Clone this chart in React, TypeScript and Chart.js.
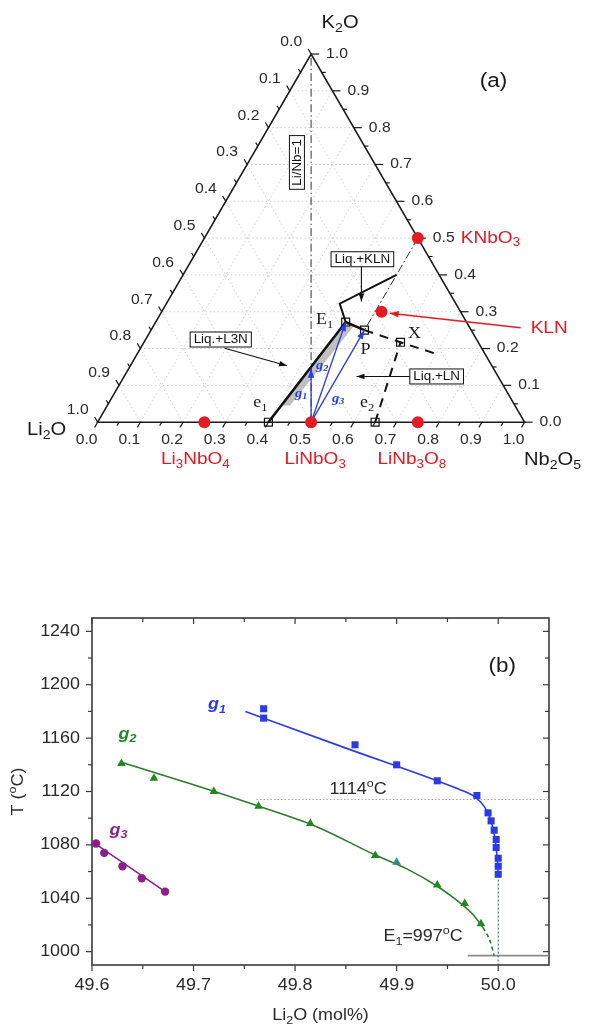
import { useEffect, useRef } from "react";
import { Chart, registerables } from "chart.js";
Chart.register(...registerables);

// ======================= (a) ternary diagram data =======================
const ternaryTicks = [0, 0.1, 0.2, 0.3, 0.4, 0.5, 0.6, 0.7, 0.8, 0.9, 1];
const ternaryTickLabels = ["0.0", "0.1", "0.2", "0.3", "0.4", "0.5", "0.6", "0.7", "0.8", "0.9", "1.0"];
const ternaryMinorTicks = [0.05, 0.15, 0.25, 0.35, 0.45, 0.55, 0.65, 0.75, 0.85, 0.95];
const componentNames = ["Li_2O", "Nb_2O_5", "K_2O"];

// compositions given as Nb2O5 and K2O fractions (Li2O = 1 - Nb - K)
const compoundNames = ["Li_3NbO_4", "LiNbO_3", "LiNb_3O_8", "KNbO_3", "KLN"];
const compoundNb = [0.25, 0.5, 0.75, 0.5, 0.515];
const compoundK = [0, 0, 0, 0.5, 0.3];

const invariantNames = ["e_1", "E_1", "P", "X", "e_2"];
const invariantNb = [0.4, 0.445, 0.5, 0.601, 0.65];
const invariantK = [0, 0.272, 0.25, 0.217, 0];

const pathNames = ["g_1", "g_2", "g_3"];
const pathStartNb = 0.5;
const pathStartK = 0;
const pathEndNb = [0.4275, 0.445, 0.5];
const pathEndK = [0.145, 0.272, 0.25];

const valleyNb = [0.4, 0.445, 0.5];
const valleyK = [0, 0.272, 0.25];
const klnBoundaryNb = [0.445, 0.406, 0.5];
const klnBoundaryK = [0.272, 0.322, 0.4];
const peritecticNb = [0.5, 0.601, 0.702];
const peritecticK = [0.25, 0.217, 0.185];
const e2BoundaryNb = [0.65, 0.601];
const e2BoundaryK = [0, 0.217];
const ratioLineNb = [0.5, 0];
const ratioLineK = [0, 1];
const knbLineNb = [0.5, 0.5];
const knbLineK = [0.5, 0.25];
const l3nFieldNb = [0.445, 0.47, 0.428, 0.407, 0.445];
const l3nFieldK = [0.272, 0.264, 0.045, 0.045, 0.272];

const fieldLabels = ["Liq.+KLN", "Liq.+L3N", "Liq.+LN"];
const fieldLabelNb = [0.3988, 0.176, 0.732];
const fieldLabelK = [0.4426, 0.2246, 0.1242];
const fieldArrowFromNb = [0.4064, 0.1971, 0.67];
const fieldArrowFromK = [0.4228, 0.2008, 0.1242];
const fieldArrowToNb = [0.454, 0.3673, 0.5443];
const fieldArrowToK = [0.3277, 0.1533, 0.1242];
const ratioLabel = "Li/Nb=1";
const ratioLabelNb = 0.114;
const ratioLabelK = 0.7055;
const klnArrowNb = [0.8627, 0.536];
const klnArrowK = [0.2563, 0.296];
const panelALabel = "(a)";

// ======================= (b) liquidus data =======================
const xTickValues = [49.6, 49.7, 49.8, 49.9, 50.0];
const xMinorTickValues = [49.65, 49.75, 49.85, 49.95];
const yTickValues = [1000, 1040, 1080, 1120, 1160, 1200, 1240];
const yMinorTickValues = [1020, 1060, 1100, 1140, 1180, 1220];

const g1Li2O = [49.769, 49.769, 49.859, 49.9, 49.94, 49.979, 49.99, 49.993, 49.996, 49.998, 49.998, 50.0, 50.0, 50.0];
const g1T = [1182, 1175, 1155, 1140, 1128, 1117, 1104, 1098, 1091, 1084, 1078, 1070, 1064, 1058];
const g1FitLi2O = [49.751, 49.85, 49.94, 49.962, 49.976, 49.986, 49.993, 49.997, 49.999, 50.0];
const g1FitT = [1180, 1152.5, 1128, 1121.5, 1116.5, 1109, 1098, 1084, 1070, 1057];

const g2Li2O = [49.629, 49.661, 49.72, 49.764, 49.815, 49.879, 49.94, 49.967, 49.983];
const g2T = [1141, 1130, 1120, 1109, 1096, 1072, 1050, 1036, 1021];
const g2ExtraLi2O = [49.9];
const g2ExtraT = [1067];
const g2FitLi2O = [49.629, 49.7, 49.76, 49.82, 49.88, 49.91, 49.94, 49.96, 49.975, 49.985];
const g2FitT = [1142, 1125, 1110, 1094, 1072, 1062, 1049, 1038, 1028, 1018];
const g2TailLi2O = [49.985, 49.992, 49.996];
const g2TailT = [1018, 1008, 997];

const g3Li2O = [49.604, 49.612, 49.63, 49.649, 49.672];
const g3T = [1081, 1074, 1064, 1055, 1045];
const g3FitLi2O = [49.603, 49.672];
const g3FitT = [1081, 1045];

const levelKLN = 1114;
const levelKLNRange = [49.762, 50.05];
const levelE1 = 997;
const levelE1Range = [49.97, 50.05];
const stoichLi2O = 50.0;
const stoichTRange = [1057, 990];

const curveNames = ["g_1", "g_2", "g_3"];
const curveLabelLi2O = [49.723, 49.635, 49.626];
const curveLabelT = [1185, 1163, 1091];
const levelLabels = ["1114^oC", "E_1=997^oC"];
const levelLabelLi2O = [49.862, 49.926];
const levelLabelT = [1121.5, 1011];
const panelBLabel = "(b)";
const panelBLabelPos = [50.004, 1214];
const xTitle = "Li_2O (mol%)";
const yTitle = "T (^oC)";

// ======================= drawing helpers =======================
const SANS = '"Liberation Sans", Arial, Helvetica, sans-serif';
const SERIF = '"Liberation Serif", "Times New Roman", serif';
const STRETCH = 1.12;
const TICK_COLOR = "#2a2a2a";
const RED = "#e31b23";
const BLUE = "#2a3be6";
const GREEN = "#1e8a1e";
const PURPLE = "#8d1f8d";

type Align = "left" | "center" | "right";
type Seg = { t: string; m: number };

function parseRich(text: string): Seg[] {
  const segs: Seg[] = [];
  for (let i = 0; i < text.length; i++) {
    const c = text[i];
    if ((c === "_" || c === "^") && i + 1 < text.length) {
      segs.push({ t: text[i + 1], m: c === "_" ? 1 : -1 });
      i++;
    } else {
      const last = segs[segs.length - 1];
      if (last && last.m === 0) last.t += c;
      else segs.push({ t: c, m: 0 });
    }
  }
  return segs;
}

function fontOf(size: number, family: string, prefix: string) {
  return `${prefix} ${size}px ${family}`.trim();
}

function measureRich(ctx: CanvasRenderingContext2D, text: string, size: number, family = SANS, prefix = "") {
  let w = 0;
  parseRich(text).forEach((s) => {
    ctx.font = fontOf(s.m ? size * 0.7 : size, family, prefix);
    w += ctx.measureText(s.t).width;
  });
  return w * STRETCH;
}

function drawRich(
  ctx: CanvasRenderingContext2D,
  text: string,
  x: number,
  y: number,
  size: number,
  color: string,
  align: Align = "center",
  family = SANS,
  prefix = ""
) {
  const segs = parseRich(text);
  const widths = segs.map((s) => {
    ctx.font = fontOf(s.m ? size * 0.7 : size, family, prefix);
    return ctx.measureText(s.t).width;
  });
  const w = widths.reduce((a, b) => a + b, 0);
  ctx.save();
  ctx.translate(x, y);
  ctx.scale(STRETCH, 1);
  let cx = align === "left" ? 0 : align === "center" ? -w / 2 : -w;
  ctx.fillStyle = color;
  ctx.textBaseline = "middle";
  ctx.textAlign = "left";
  segs.forEach((s, i) => {
    ctx.font = fontOf(s.m ? size * 0.7 : size, family, prefix);
    const dy = s.m === 1 ? size * 0.3 : s.m === -1 ? -size * 0.38 : 0;
    ctx.fillText(s.t, cx, dy);
    cx += widths[i];
  });
  ctx.restore();
}

function seg(ctx: CanvasRenderingContext2D, a: number[], b: number[]) {
  ctx.beginPath();
  ctx.moveTo(a[0], a[1]);
  ctx.lineTo(b[0], b[1]);
  ctx.stroke();
}

function boxedText(ctx: CanvasRenderingContext2D, text: string, cx: number, cy: number, size: number) {
  const w = measureRich(ctx, text, size) + 7;
  const h = size + 3;
  ctx.save();
  ctx.fillStyle = "#fff";
  ctx.strokeStyle = "#111";
  ctx.lineWidth = 1;
  ctx.fillRect(cx - w / 2, cy - h / 2, w, h);
  ctx.strokeRect(cx - w / 2, cy - h / 2, w, h);
  ctx.restore();
  drawRich(ctx, text, cx, cy + 0.5, size, "#111", "center");
}

const SQ = Math.sqrt(3) / 2;
const toXY = (nb: number, k: number) => ({ x: nb + k / 2, y: k * SQ });
const path = (nbs: number[], ks: number[]) => nbs.map((nb, i) => toXY(nb, ks[i]));
const xy = (xs: number[], ys: number[]) => xs.map((x, i) => ({ x, y: ys[i] }));

// ======================= (a) plugin =======================
const ternaryPlugin = {
  id: "ternaryDecor",
  beforeDatasetsDraw(chart: any) {
    const ctx: CanvasRenderingContext2D = chart.ctx;
    const xs = chart.scales.x;
    const ys = chart.scales.y;
    const P = (nb: number, k: number) => [xs.getPixelForValue(nb + k / 2), ys.getPixelForValue(k * SQ)];
    ctx.save();
    ctx.strokeStyle = "#c2c2c2";
    ctx.lineWidth = 0.8;
    ctx.setLineDash([1.5, 2.5]);
    ternaryTicks.forEach((v) => {
      if (v <= 0 || v >= 1) return;
      seg(ctx, P(0, v), P(1 - v, v));
      seg(ctx, P(v, 0), P(v, 1 - v));
      seg(ctx, P(1 - v, 0), P(0, 1 - v));
    });
    ctx.setLineDash([]);
    ctx.strokeStyle = "#1a1a1a";
    ctx.lineWidth = 1.6;
    ctx.beginPath();
    const c0 = P(0, 0), c1 = P(1, 0), c2 = P(0, 1);
    ctx.moveTo(c0[0], c0[1]);
    ctx.lineTo(c1[0], c1[1]);
    ctx.lineTo(c2[0], c2[1]);
    ctx.closePath();
    ctx.stroke();
    const dB = [-0.5, 0.866], dR = [1, 0], dL = [-0.5, -0.866];
    const tick = (p: number[], d: number[], len: number) => seg(ctx, p, [p[0] + d[0] * len, p[1] + d[1] * len]);
    ctx.lineWidth = 1.2;
    ternaryTicks.forEach((v) => {
      tick(P(v, 0), dB, 6);
      tick(P(1 - v, v), dR, 8);
      tick(P(0, 1 - v), dL, 6);
    });
    ternaryMinorTicks.forEach((v) => {
      tick(P(v, 0), dB, 4);
      tick(P(1 - v, v), dR, 4);
      tick(P(0, 1 - v), dL, 4);
    });
    ctx.restore();
    ternaryTicks.forEach((v, i) => {
      const lab = ternaryTickLabels[i];
      let p = P(v, 0);
      drawRich(ctx, lab, p[0] - 11, p[1] + 18, 14, TICK_COLOR, "center");
      p = P(1 - v, v);
      drawRich(ctx, lab, p[0] + 15, p[1], 14, TICK_COLOR, "left");
      p = P(0, 1 - v);
      drawRich(ctx, lab, p[0] - 9, p[1] - 12, 14, TICK_COLOR, "right");
    });
  },
  afterDatasetsDraw(chart: any) {
    const ctx: CanvasRenderingContext2D = chart.ctx;
    const xs = chart.scales.x;
    const ys = chart.scales.y;
    const P = (nb: number, k: number) => [xs.getPixelForValue(nb + k / 2), ys.getPixelForValue(k * SQ)];
    chart.data.datasets.forEach((ds: any, i: number) => {
      if (!ds.arrow) return;
      const pts = chart.getDatasetMeta(i).data;
      const a = pts[pts.length - 2];
      const b = pts[pts.length - 1];
      const ang = Math.atan2(b.y - a.y, b.x - a.x);
      const L = ds.arrowLength || 8;
      const W = ds.arrowWidth || 3;
      const c = Math.cos(ang), s = Math.sin(ang);
      ctx.save();
      ctx.fillStyle = ds.borderColor;
      ctx.beginPath();
      ctx.moveTo(b.x, b.y);
      ctx.lineTo(b.x - L * c + W * s, b.y - L * s - W * c);
      ctx.lineTo(b.x - L * c - W * s, b.y - L * s + W * c);
      ctx.closePath();
      ctx.fill();
      ctx.restore();
    });
    const cL = P(0, 0), cN = P(1, 0), cK = P(0, 1);
    drawRich(ctx, componentNames[0], cL[0] - 51, cL[1] + 8, 18, "#1a1a1a", "center");
    drawRich(ctx, componentNames[1], cN[0] + 28, cN[1] + 38, 18, "#1a1a1a", "center");
    drawRich(ctx, componentNames[2], cK[0] + 29, cK[1] - 31, 18, "#1a1a1a", "center");
    const compoundOffsets: [number, number, Align][] = [
      [-9, 37, "center"],
      [4, 37, "center"],
      [-6, 37, "center"],
      [43, 0, "left"],
    ];
    compoundOffsets.forEach((o, i) => {
      const p = P(compoundNb[i], compoundK[i]);
      drawRich(ctx, compoundNames[i], p[0] + o[0], p[1] + o[1], 17, RED, o[2]);
    });
    const kt = P(klnArrowNb[0], klnArrowK[0]);
    drawRich(ctx, compoundNames[4], kt[0] + 10, kt[1], 17, RED, "left");
    const invOffsets = [
      [-8, -19],
      [-21, -2],
      [1, 20],
      [14, -8],
      [-8, -19],
    ];
    invOffsets.forEach((o, i) => {
      const p = P(invariantNb[i], invariantK[i]);
      drawRich(ctx, invariantNames[i], p[0] + o[0], p[1] + o[1], 16, "#1a1a1a", "center", SERIF);
    });
    const o = P(pathStartNb, pathStartK);
    const pathOffsets = [
      [-10, -29],
      [11, -57],
      [27, -24],
    ];
    pathOffsets.forEach((d, i) => {
      drawRich(ctx, pathNames[i], o[0] + d[0], o[1] + d[1], 13, BLUE, "center", SERIF, "italic bold");
    });
    fieldLabels.forEach((t, i) => {
      const p = P(fieldLabelNb[i], fieldLabelK[i]);
      boxedText(ctx, t, p[0], p[1], 12);
    });
    const rp = P(ratioLabelNb, ratioLabelK);
    ctx.save();
    ctx.translate(rp[0], rp[1]);
    ctx.rotate(-Math.PI / 2);
    boxedText(ctx, ratioLabel, 0, 0, 12);
    ctx.restore();
    drawRich(ctx, panelALabel, xs.getPixelForValue(0.927), ys.getPixelForValue(0.801), 20, "#1a1a1a", "center");
  },
};

// ======================= (b) plugin =======================
const phasePlugin = {
  id: "phaseDecor",
  beforeDatasetsDraw(chart: any) {
    const ctx: CanvasRenderingContext2D = chart.ctx;
    const a = chart.chartArea;
    const xs = chart.scales.x;
    const ys = chart.scales.y;
    ctx.save();
    ctx.strokeStyle = "#3a3a3a";
    ctx.lineWidth = 1.2;
    const vt = (v: number, L: number) => {
      const px = xs.getPixelForValue(v);
      seg(ctx, [px, a.bottom], [px, a.bottom + L]);
      seg(ctx, [px, a.top], [px, a.top + L]);
    };
    const ht = (v: number, L: number) => {
      const py = ys.getPixelForValue(v);
      seg(ctx, [a.left, py], [a.left - L, py]);
      seg(ctx, [a.right, py], [a.right - L, py]);
    };
    xTickValues.forEach((v) => vt(v, 6));
    xMinorTickValues.forEach((v) => vt(v, 4));
    yTickValues.forEach((v) => ht(v, 6));
    yMinorTickValues.forEach((v) => ht(v, 4));
    ctx.lineWidth = 1.6;
    ctx.strokeRect(a.left, a.top, a.right - a.left, a.bottom - a.top);
    ctx.restore();
    xTickValues.forEach((v) => {
      drawRich(ctx, v.toFixed(1), xs.getPixelForValue(v), a.bottom + 21, 16, TICK_COLOR, "center");
    });
    yTickValues.forEach((v) => {
      drawRich(ctx, String(v), a.left - 12, ys.getPixelForValue(v), 16, TICK_COLOR, "right");
    });
    drawRich(ctx, xTitle, (a.left + a.right) / 2, a.bottom + 51, 16, TICK_COLOR, "center");
    ctx.save();
    ctx.translate(19, (a.top + a.bottom) / 2);
    ctx.rotate(-Math.PI / 2);
    drawRich(ctx, yTitle, 0, 0, 16, TICK_COLOR, "center");
    ctx.restore();
  },
  afterDatasetsDraw(chart: any) {
    const ctx: CanvasRenderingContext2D = chart.ctx;
    const xs = chart.scales.x;
    const ys = chart.scales.y;
    const colors = [BLUE, GREEN, PURPLE];
    curveNames.forEach((n, i) => {
      drawRich(ctx, n, xs.getPixelForValue(curveLabelLi2O[i]), ys.getPixelForValue(curveLabelT[i]), 16, colors[i], "center", SANS, "italic bold");
    });
    levelLabels.forEach((t, i) => {
      drawRich(ctx, t, xs.getPixelForValue(levelLabelLi2O[i]), ys.getPixelForValue(levelLabelT[i]), 16, TICK_COLOR, "center");
    });
    drawRich(ctx, panelBLabel, xs.getPixelForValue(panelBLabelPos[0]), ys.getPixelForValue(panelBLabelPos[1]), 20, "#1a1a1a", "center");
  },
};

// ======================= configs =======================
const lineDs = (data: any[], color: string, width: number, dash: number[] = [], extra: any = {}) => ({
  data,
  showLine: true,
  pointRadius: 0,
  borderColor: color,
  backgroundColor: color,
  borderWidth: width,
  borderDash: dash,
  fill: false,
  ...extra,
});

const pointDs = (data: any[], style: string, radius: number, fill: string, border = fill, bw = 0) => ({
  data,
  showLine: false,
  pointStyle: style,
  pointRadius: radius,
  backgroundColor: fill,
  borderColor: border,
  borderWidth: bw,
  clip: false,
});

function ternaryConfig(): any {
  const start = toXY(pathStartNb, pathStartK);
  const datasets: any[] = [
    pointDs(path(compoundNb, compoundK), "circle", 6, RED),
    pointDs(path(invariantNb, invariantK), "rect", 5.6, "rgba(255,255,255,0)", "#111", 1.2),
    ...pathEndNb.map((nb, i) =>
      lineDs([start, toXY(nb, pathEndK[i])], BLUE, 1.3, [], { arrow: true, arrowLength: 9, arrowWidth: 3.2 })
    ),
    lineDs(path(klnArrowNb, klnArrowK), RED, 1.5, [], { arrow: true, arrowLength: 9, arrowWidth: 3.2 }),
    ...fieldArrowFromNb.map((nb, i) =>
      lineDs([toXY(nb, fieldArrowFromK[i]), toXY(fieldArrowToNb[i], fieldArrowToK[i])], "#111", 1.1, [], {
        arrow: true,
        arrowLength: 8,
        arrowWidth: 2.8,
      })
    ),
    lineDs(path(valleyNb, valleyK), "#111", 2.6),
    lineDs(path(klnBoundaryNb, klnBoundaryK), "#111", 2),
    lineDs(path(peritecticNb, peritecticK), "#111", 2, [9, 7]),
    lineDs(path(e2BoundaryNb, e2BoundaryK), "#111", 2, [9, 7]),
    lineDs(path(ratioLineNb, ratioLineK), "#333", 1, [8, 3, 1.5, 3]),
    lineDs(path(knbLineNb, knbLineK), "#333", 1, [8, 3, 1.5, 3]),
    lineDs(path(l3nFieldNb, l3nFieldK), "rgba(0,0,0,0)", 0, [], { fill: "shape", backgroundColor: "rgba(140,140,140,0.55)" }),
  ];
  return {
    type: "scatter",
    data: { datasets },
    options: {
      animation: false,
      responsive: false,
      events: [],
      layout: { padding: 0 },
      plugins: { legend: { display: false }, tooltip: { enabled: false } },
      scales: {
        x: { type: "linear", display: false, min: -93 / 437, max: (589 - 93) / 437 },
        y: { type: "linear", display: false, min: -(500 - 427) / 437, max: 427 / 437 },
      },
    },
    plugins: [ternaryPlugin],
  };
}

function phaseConfig(): any {
  const datasets: any[] = [
    pointDs(xy(g1Li2O, g1T), "rect", 5, BLUE),
    pointDs(xy(g2ExtraLi2O, g2ExtraT), "triangle", 5, "#2b8c8c"),
    pointDs(xy(g2Li2O, g2T), "triangle", 5, GREEN),
    pointDs(xy(g3Li2O, g3T), "circle", 4.2, PURPLE),
    lineDs(xy(g1FitLi2O, g1FitT), BLUE, 1.6, [], { cubicInterpolationMode: "monotone" }),
    lineDs(xy(g2FitLi2O, g2FitT), "#2f7a2f", 1.6, [], { cubicInterpolationMode: "monotone" }),
    lineDs(xy(g2TailLi2O, g2TailT), "#2f7a2f", 1.6, [4, 3], { cubicInterpolationMode: "monotone" }),
    lineDs(xy(g3FitLi2O, g3FitT), PURPLE, 1.6),
    lineDs(xy(levelKLNRange, [levelKLN, levelKLN]), "#a8a8a8", 1, [1.5, 2]),
    lineDs(xy(levelE1Range, [levelE1, levelE1]), "#8a8a8a", 1.6, [], { clip: false }),
    lineDs(xy([stoichLi2O, stoichLi2O], stoichTRange), "#2d4c86", 1, [2, 2]),
  ];
  return {
    type: "scatter",
    data: { datasets },
    options: {
      animation: false,
      responsive: false,
      events: [],
      layout: { padding: { left: 92, right: 40, top: 58, bottom: 64 } },
      plugins: { legend: { display: false }, tooltip: { enabled: false } },
      scales: {
        x: { type: "linear", display: false, min: 49.6, max: 50.05 },
        y: { type: "linear", display: false, min: 990, max: 1250 },
      },
    },
    plugins: [phasePlugin],
  };
}

export default function App() {
  const topRef = useRef<HTMLCanvasElement>(null);
  const botRef = useRef<HTMLCanvasElement>(null);
  useEffect(() => {
    const c1 = new Chart(topRef.current as HTMLCanvasElement, ternaryConfig());
    const c2 = new Chart(botRef.current as HTMLCanvasElement, phaseConfig());
    return () => {
      c1.destroy();
      c2.destroy();
    };
  }, []);
  return (
    <div style={{ position: "absolute", left: 0, top: 0, width: 589, height: 1029, background: "#fff" }}>
      <canvas ref={topRef} width={589} height={500} style={{ position: "absolute", left: 0, top: 0 }} />
      <canvas ref={botRef} width={589} height={469} style={{ position: "absolute", left: 0, top: 560 }} />
    </div>
  );
}
